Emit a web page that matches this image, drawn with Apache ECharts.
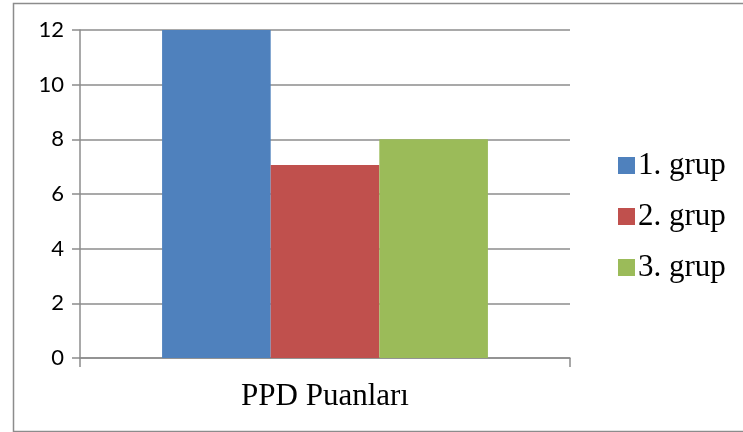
<!DOCTYPE html>
<html>
<head>
<meta charset="utf-8">
<script src="https://cdn.jsdelivr.net/npm/echarts@6/dist/echarts.min.js"></script>
<style>html,body{margin:0;padding:0;background:#fff}#c{width:743px;height:432px}</style>
</head>
<body>
<div id="c"></div>
<script>
var categories = ['PPD Puanları'];
var seriesNames = ['1. grup', '2. grup', '3. grup'];
var group1 = [12];
var group2 = [7.06];
var group3 = [8];
var colors = ['#4F81BD', '#C0504D', '#9BBB59'];

var chart = echarts.init(document.getElementById('c'), null, {renderer: 'canvas'});
var values = [group1, group2, group3];
chart.setOption({
  animation: false,
  color: colors,
  graphic: [{
    type: 'rect', left: 11, top: 1, z: -1,
    shape: {width: 731, height: 428},
    style: {fill: 'none', stroke: '#8c8c8c', lineWidth: 1.5}
  }],
  grid: {left: 80, right: 173, top: 30, bottom: 74},
  legend: {
    orient: 'vertical', left: 613, top: 145,
    itemWidth: 17, itemHeight: 17, itemGap: 20, icon: 'rect',
    textStyle: {fontFamily: 'Liberation Serif', fontSize: 31, lineHeight: 31, color: '#000', padding: [0,0,0,-2]},
    data: seriesNames
  },
  xAxis: {
    type: 'category', data: categories,
    axisLine: {lineStyle: {color: '#8c8c8c', width: 1.5}},
    axisTick: {show: true, length: 9, lineStyle: {color: '#8c8c8c', width: 1.5}},
    axisLabel: {fontFamily: 'Liberation Serif', fontSize: 31, color: '#000', margin: 23}
  },
  yAxis: {
    type: 'value', min: 0, max: 12, interval: 2,
    axisLine: {show: true, lineStyle: {color: '#8c8c8c', width: 1.5}},
    axisTick: {show: true, length: 8, lineStyle: {color: '#8c8c8c', width: 1.5}},
    splitLine: {lineStyle: {color: '#8c8c8c', width: 1.5}},
    axisLabel: {fontFamily: 'Lato', fontSize: 22, color: '#000', margin: 16}
  },
  series: seriesNames.map(function (n, i) {
    return {name: n, type: 'bar', data: values[i], barGap: '0%', barCategoryGap: '33.5%'};
  })
});
</script>
</body>
</html>
